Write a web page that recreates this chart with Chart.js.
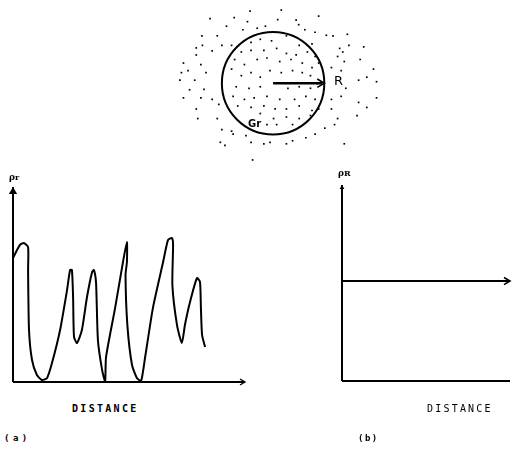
<!DOCTYPE html>
<html>
<head>
<meta charset="utf-8">
<script src="https://cdn.jsdelivr.net/npm/chart.js@4"></script>
<style>
  html, body { margin: 0; padding: 0; background: #fff; }
  body { width: 513px; height: 449px; position: relative; overflow: hidden; }
  .box { position: absolute; }
  .lbl { position: absolute; color: #000; font-family: "DejaVu Sans Mono", monospace; white-space: nowrap; line-height: 1; }
</style>
</head>
<body>
<div class="box" style="left:160px;top:0;width:240px;height:170px"><canvas id="grain"></canvas></div>
<div class="box" style="left:0;top:170px;width:260px;height:230px"><canvas id="rough"></canvas></div>
<div class="box" style="left:300px;top:165px;width:213px;height:235px"><canvas id="flat"></canvas></div>

<div class="lbl" style="left:334px;top:73px;font:13px 'DejaVu Sans';">R</div>
<div class="lbl" style="left:248px;top:118px;font:bold 10px 'DejaVu Sans';">Gr</div>
<div class="lbl" style="left:9px;top:172px;font:bold 9px 'DejaVu Serif';">ρ<span style="font-size:8px">r</span></div>
<div class="lbl" style="left:338px;top:168px;font:bold 9px 'DejaVu Serif';">ρ<span style="font-size:8px">R</span></div>
<div class="lbl" style="left:72px;top:404px;font-weight:bold;font-size:10px;letter-spacing:2.3px;">DISTANCE</div>
<div class="lbl" style="left:427px;top:404px;font-size:10px;letter-spacing:2.2px;">DISTANCE</div>
<div class="lbl" style="left:4px;top:434px;font-weight:bold;font-size:9px;letter-spacing:3.5px;">(a)</div>
<div class="lbl" style="left:358px;top:434px;font-weight:bold;font-size:9px;letter-spacing:1.5px;">(b)</div>

<script>
// (a) local density along the distance, rough grain
const roughX = [0, 0.30, 0.47, 0.65, 0.65, 0.69, 0.82, 1.03, 1.25, 1.47, 1.68, 2.03, 2.33, 2.46, 2.54, 2.59, 2.63, 2.76,
  2.97, 3.19, 3.41, 3.49, 3.58, 3.66, 3.84, 3.97, 4.01, 4.40, 4.74, 4.91, 4.91, 4.85, 4.93, 5.13, 5.34, 5.52, 5.69,
  6.03, 6.47, 6.68, 6.85, 6.90, 6.87, 7.07, 7.28, 7.41, 7.63, 7.93, 8.06, 8.10, 8.15, 8.28];
const roughY = [6.36, 7.03, 7.13, 6.92, 5.74, 2.67, 1.13, 0.36, 0.10, 0.21, 0.97, 2.67, 4.72, 5.74, 5.74, 4.36, 2.31, 2.00,
  2.67, 4.36, 5.64, 5.74, 5.08, 2.15, 0.62, 0.00, 1.28, 3.79, 6.15, 7.18, 6.15, 5.49, 2.92, 0.87, 0.21, 0.05, 1.23,
  3.79, 6.15, 7.28, 7.38, 7.03, 4.97, 2.92, 2.00, 2.92, 4.10, 5.33, 5.13, 3.79, 2.41, 1.79];

// (b) uniform density of the ideal grain
const flatX = [0, 10];
const flatY = [5.1, 5.1];

// grain sketch: radius R = 100, speckles as [x, y] in the same units
const grainR = 100;
const speckles = [
  [-45,143],[16,145],[-123,128],[-76,130],[-50,122],[9,126],[45,125],[50,116],[89,133],[-91,113],[-59,106],[-31,109],
  [-15,113],[62,106],[82,101],[104,95],[117,94],[145,97],[-139,94],[-109,94],[-138,75],[-150,70],[-81,75],[-119,64],
  [-100,75],[130,69],[148,75],[177,72],[-175,40],[-150,56],[-141,37],[-166,25],[-179,21],[-131,21],[-153,6],[-182,6],
  [-135,-12],[-163,-13],[-119,-32],[-175,-29],[-141,-29],[-150,-51],[-106,-42],[-147,-70],[-109,-70],[-100,-92],
  [-81,-95],[-103,-117],[-94,-123],[-53,-104],[-78,-101],[-43,-117],[-18,-120],[-6,-117],[26,-120],[38,-114],
  [64,-108],[82,-101],[101,-89],[139,-120],[120,-82],[126,-70],[164,-64],[183,-48],[202,-29],[167,-38],[133,-26],
  [114,-32],[114,-51],[142,-10],[167,6],[202,3],[196,28],[183,12],[133,25],[114,31],[139,43],[126,53],[170,47],
  [136,62],[-40,-152],
  [-43,81],[-25,87],[-3,84],[26,94],[51,75],[76,78],[-62,62],[-43,65],[-18,65],[7,69],[26,59],[45,56],[67,62],
  [82,53],[-75,47],[-56,37],[-31,47],[-12,50],[13,43],[35,47],[57,40],[76,31],[89,40],[-81,28],[-62,15],[-43,21],
  [-25,12],[-6,25],[16,21],[38,25],[57,21],[73,15],[-72,-7],[-47,-10],[-25,-7],[29,-10],[51,-7],[73,-10],[86,-1],
  [-78,-26],[-56,-32],[-37,-29],[-12,-26],[13,-32],[42,-32],[64,-26],[82,-32],[-69,-45],[-43,-48],[-18,-45],
  [4,-51],[26,-51],[51,-45],[76,-54],[89,-51],[-25,-60],[1,-70],[26,-67],[51,-70],[73,-64],[7,-82],[38,-82],[-12,-82]
];

const ink = "#000";
Chart.defaults.animation = false;
Chart.defaults.responsive = true;
Chart.defaults.maintainAspectRatio = false;
Chart.defaults.plugins.legend.display = false;
Chart.defaults.plugins.tooltip.enabled = false;

function arrowHead(ctx, x, y, dir, size, filled) {
  ctx.save();
  ctx.translate(x, y);
  ctx.rotate(dir);
  ctx.beginPath();
  ctx.moveTo(-size, -size * 0.6);
  ctx.lineTo(0, 0);
  ctx.lineTo(-size, size * 0.6);
  if (filled) { ctx.closePath(); ctx.fill(); } else ctx.stroke();
  ctx.restore();
}

// axes drawn along the chart area edges
function axesPlugin(opts) {
  return {
    id: "sketchAxes",
    beforeDatasetsDraw(chart) {
      const { ctx, chartArea: a } = chart;
      ctx.save();
      ctx.strokeStyle = ink;
      ctx.fillStyle = ink;
      ctx.lineWidth = 2;
      ctx.beginPath();
      ctx.moveTo(a.left, a.bottom);
      ctx.lineTo(a.left, a.top);
      ctx.moveTo(a.left, a.bottom);
      ctx.lineTo(a.right - (opts.xArrow ? 1 : 0), a.bottom);
      ctx.stroke();
      arrowHead(ctx, a.left, a.top, -Math.PI / 2, opts.yHead, true);
      if (opts.xArrow) {
        ctx.lineWidth = 1.3;
        arrowHead(ctx, a.right, a.bottom, 0, 5, false);
      }
      ctx.restore();
    },
  };
}

new Chart(document.getElementById("rough"), {
  type: "scatter",
  data: {
    datasets: [{
      data: roughX.map((x, i) => ({ x, y: roughY[i] })),
      showLine: true,
      borderColor: ink,
      borderWidth: 2,
      tension: 0.2,
      pointRadius: 0,
      clip: false,
    }],
  },
  options: {
    layout: { padding: { left: 13, top: 17, right: 15, bottom: 18 } },
    scales: {
      x: { type: "linear", min: 0, max: 10, display: false },
      y: { type: "linear", min: 0, max: 10, display: false },
    },
  },
  plugins: [axesPlugin({ xArrow: true, yHead: 7 })],
});

new Chart(document.getElementById("flat"), {
  type: "scatter",
  data: {
    datasets: [{
      data: flatX.map((x, i) => ({ x, y: flatY[i] })),
      showLine: true,
      borderColor: ink,
      borderWidth: 2,
      pointRadius: 0,
      clip: false,
    }],
  },
  options: {
    layout: { padding: { left: 42, top: 20, right: 3, bottom: 19 } },
    scales: {
      x: { type: "linear", min: 0, max: 10, display: false },
      y: { type: "linear", min: 0, max: 10, display: false },
    },
  },
  plugins: [
    axesPlugin({ xArrow: false, yHead: 4 }),
    {
      id: "flatArrow",
      afterDatasetsDraw(chart) {
        const { ctx, scales } = chart;
        const n = flatX.length - 1;
        ctx.save();
        ctx.strokeStyle = ink;
        ctx.lineWidth = 1.6;
        arrowHead(ctx, scales.x.getPixelForValue(flatX[n]), scales.y.getPixelForValue(flatY[n]), 0, 6, false);
        ctx.restore();
      },
    },
  ],
});

new Chart(document.getElementById("grain"), {
  type: "scatter",
  data: {
    datasets: [{
      data: speckles.map(([x, y]) => ({ x, y })),
      pointStyle: "rect",
      pointRadius: 1.2,
      borderWidth: 0,
      backgroundColor: ink,
      clip: false,
    }],
  },
  options: {
    scales: {
      x: { type: "linear", min: -213, max: 240, display: false },
      y: { type: "linear", min: -164, max: 157, display: false },
    },
  },
  plugins: [{
    id: "grainOutline",
    afterDatasetsDraw(chart) {
      const { ctx, scales } = chart;
      const cx = scales.x.getPixelForValue(0);
      const cy = scales.y.getPixelForValue(0);
      const r = scales.x.getPixelForValue(grainR) - cx;
      ctx.save();
      ctx.strokeStyle = ink;
      ctx.fillStyle = ink;
      ctx.lineWidth = 2;
      ctx.beginPath();
      ctx.arc(cx, cy, r, 0, Math.PI * 2);
      ctx.stroke();
      ctx.lineWidth = 2.5;
      ctx.beginPath();
      ctx.moveTo(cx, cy);
      ctx.lineTo(cx + r - 2, cy);
      ctx.stroke();
      ctx.lineWidth = 1.6;
      arrowHead(ctx, cx + r, cy, 0, 7, false);
      ctx.restore();
    },
  }],
});
</script>
</body>
</html>
